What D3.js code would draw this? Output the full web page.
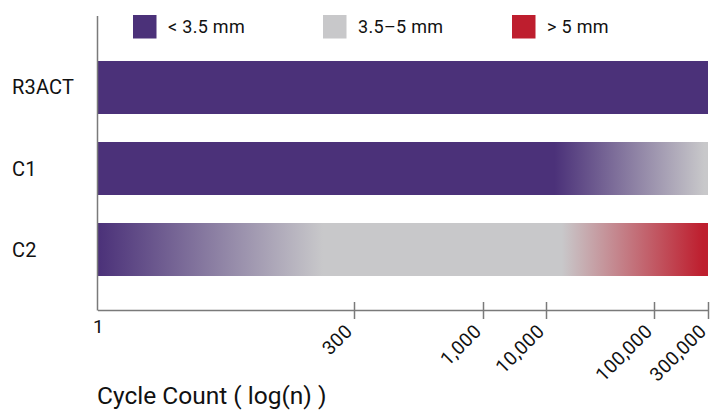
<!DOCTYPE html>
<html>
<head>
<meta charset="utf-8">
<script src="https://cdn.jsdelivr.net/npm/d3@7"></script>
<style>
  html, body { margin: 0; padding: 0; background: #fff; }
  svg { display: block; font-family: Roboto, "Liberation Sans", sans-serif; }
</style>
</head>
<body>
<svg id="chart" width="710" height="410"></svg>
<script>
// Wear bands shown in the legend and their colours
const bands = ["< 3.5 mm", "3.5–5 mm", "> 5 mm"];
const bandColors = ["#4b3179", "#c8c8ca", "#be1e2e"];

// Specimens, top to bottom
const categories = ["R3ACT", "C1", "C2"];

// Colour stops along each bar: cycle count where each band is fully reached
const stopCycles = [
  [1, 300000],
  [1, 12000, 280000],
  [1, 150, 14000, 270000]
];
const stopBands = [
  ["< 3.5 mm", "< 3.5 mm"],
  ["< 3.5 mm", "< 3.5 mm", "3.5–5 mm"],
  ["< 3.5 mm", "3.5–5 mm", "3.5–5 mm", "> 5 mm"]
];
// Every bar spans the whole test
const barEnd = [300000, 300000, 300000];

// Axis ticks (cycle counts) and their labels
const tickValues = [1, 300, 1000, 10000, 100000, 300000];
const tickLabels = ["1", "300", "1,000", "10,000", "100,000", "300,000"];

const svg = d3.select("#chart");
const axisColor = "#7a7a7a";

// Piecewise log scale: the axis gives each labelled count its own spacing
const x = d3.scaleLog()
  .domain(tickValues)
  .range([98, 354, 483, 546, 654, 708]);

const y = d3.scaleBand()
  .domain(categories)
  .range([47, 290])
  .paddingInner(0.3457)
  .paddingOuter(0.1728);

const color = d3.scaleOrdinal().domain(bands).range(bandColors);

// Gradients for each bar
const defs = svg.append("defs");
categories.forEach((c, i) => {
  const g = defs.append("linearGradient")
    .attr("id", "grad-" + i)
    .attr("gradientUnits", "userSpaceOnUse")
    .attr("x1", x(1)).attr("x2", x(barEnd[i]))
    .attr("y1", 0).attr("y2", 0);
  const span = x(barEnd[i]) - x(1);
  stopCycles[i].forEach((v, k) => {
    g.append("stop")
      .attr("offset", (x(v) - x(1)) / span)
      .attr("stop-color", color(stopBands[i][k]));
  });
});

// Bars
svg.append("g").selectAll("rect")
  .data(categories)
  .join("rect")
  .attr("x", x(1))
  .attr("y", d => y(d))
  .attr("width", (d, i) => x(barEnd[i]) - x(1))
  .attr("height", y.bandwidth())
  .attr("fill", (d, i) => `url(#grad-${i})`);

// Category labels
svg.append("g").selectAll("text")
  .data(categories)
  .join("text")
  .attr("x", 12)
  .attr("y", d => y(d) + y.bandwidth() / 2)
  .attr("dy", "0.35em")
  .attr("font-size", 20)
  .attr("letter-spacing", 0.2)
  .attr("fill", "#111")
  .text(d => d);

// Vertical axis line
svg.append("line")
  .attr("x1", 97.5).attr("x2", 97.5)
  .attr("y1", 16).attr("y2", 310.5)
  .attr("stroke", axisColor).attr("stroke-width", 1.5);

// Bottom axis
const axisY = 310.5;
const xAxis = d3.axisBottom(x)
  .tickValues(tickValues)
  .tickSize(0)
  .tickFormat((d, i) => tickLabels[i]);

const ax = svg.append("g")
  .attr("transform", `translate(0,${axisY})`)
  .call(xAxis);

ax.select(".domain")
  .attr("d", `M${x(1)},0H${x(300000)}`)
  .attr("stroke", axisColor)
  .attr("stroke-width", 1.5);

ax.selectAll(".tick line")
  .attr("y1", d => d === 1 ? 0 : -8.5)
  .attr("y2", d => d === 1 ? 0 : 8.5)
  .attr("stroke", axisColor)
  .attr("stroke-width", 1.5);

ax.selectAll(".tick text")
  .attr("font-family", "Roboto, sans-serif")
  .attr("font-size", 19)
  .attr("letter-spacing", 0.4)
  .attr("fill", "#111")
  .each(function(d) {
    const t = d3.select(this);
    if (d === 1) {
      t.attr("text-anchor", "middle").attr("y", 22).attr("dy", 0).attr("x", 0);
    } else {
      t.attr("text-anchor", "end")
        .attr("x", 0).attr("y", 0).attr("dy", 0)
        .attr("transform", "translate(-1,22) rotate(-45)");
    }
  });

// Axis title
svg.append("text")
  .attr("x", 97)
  .attr("y", 404)
  .attr("font-size", 24.5)
  .attr("fill", "#111")
  .text("Cycle Count ( log(n) )");

// Legend
const legendX = [133, 323, 512];
const legend = svg.append("g").selectAll("g")
  .data(bands)
  .join("g")
  .attr("transform", (d, i) => `translate(${legendX[i]},15)`);

legend.append("rect")
  .attr("width", 23.5).attr("height", 23.5)
  .attr("fill", d => color(d));

legend.append("text")
  .attr("x", 35)
  .attr("y", 12)
  .attr("dy", "0.35em")
  .attr("font-size", 18)
  .attr("letter-spacing", 0.3)
  .attr("fill", "#111")
  .text(d => d);
</script>
</body>
</html>
